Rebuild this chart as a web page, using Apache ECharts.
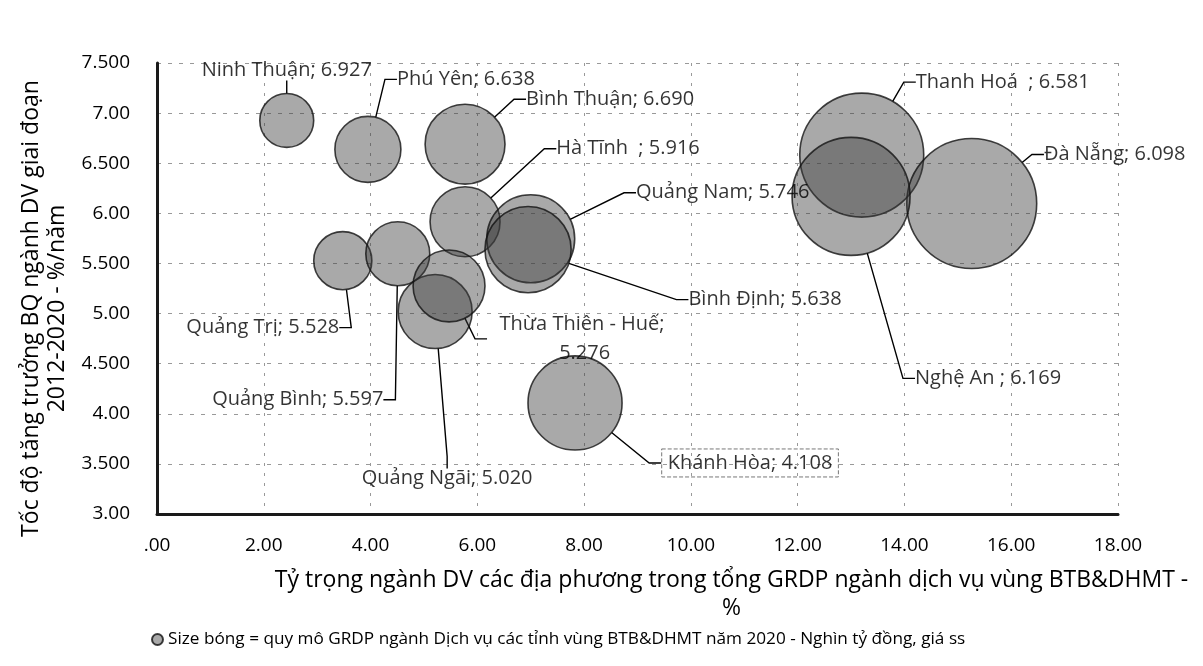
<!DOCTYPE html>
<html>
<head>
<meta charset="utf-8">
<script src="https://cdn.jsdelivr.net/npm/echarts@6/dist/echarts.min.js"></script>
<style>
html,body{margin:0;padding:0;background:#fff;}
#chart{width:1203px;height:666px;}
</style>
</head>
<body>
<div id="chart"></div>
<script>
// ---- data ----
const provinces = ['Ninh Thuận', 'Phú Yên', 'Bình Thuận', 'Hà Tĩnh  ', 'Quảng Nam', 'Bình Định', 'Thanh Hoá  ', 'Đà Nẵng', 'Nghệ An ', 'Khánh Hòa', 'Quảng Trị', 'Quảng Bình', 'Quảng Ngãi', 'Thừa Thiên - Huế'];
const shareX = [2.43, 3.95, 5.77, 5.77, 7.00, 6.95, 13.20, 15.26, 13.00, 7.83, 3.48, 4.51, 5.21, 5.47];
const growthY = [6.927, 6.638, 6.690, 5.916, 5.746, 5.638, 6.581, 6.098, 6.169, 4.108, 5.528, 5.597, 5.020, 5.276];
const grdpSize = [8.6, 12.9, 18.9, 14.5, 22.9, 22.0, 45.5, 50.0, 41.2, 26.2, 10.0, 12.1, 16.2, 15.3];
const xTickLabels = ['.00', '2.00', '4.00', '6.00', '8.00', '10.00', '12.00', '14.00', '16.00', '18.00'];
const yTickLabels = ['3.00', '3.500', '4.00', '4.500', '5.00', '5.500', '6.00', '6.500', '7.00', '7.500'];
const seriesName = 'Size bóng = quy mô GRDP ngành Dịch vụ các tỉnh vùng BTB&DHMT năm 2020 - Nghìn tỷ đồng, giá ss';
const xTitle = 'Tỷ trọng ngành DV các địa phương trong tổng GRDP ngành dịch vụ vùng BTB&DHMT -\n%';
const yTitle = 'Tốc độ tăng trưởng BQ ngành DV giai đoạn\n2012-2020 - %/năm';

// ---- label layout (pixel offsets of each label from its bubble centre) ----
const labelOffsets = [
  [0, -50], [98, -70], [145, -45], [163, -73], [192, -46], [237, 50], [141, -73],
  [143, -49], [137, 182], [175, 60], [-80, 67], [-100, 146], [12, 167], [133, 53]
];

const FONT = '"Open Sans", "DejaVu Sans", sans-serif';

const data = provinces.map((p, i) => {
  const item = { name: p, value: [shareX[i], growthY[i], grdpSize[i]] };
  if (p === 'Thừa Thiên - Huế') {
    item.label = { width: 190, overflow: 'break', align: 'center', lineHeight: 29 };
  }
  if (p === 'Khánh Hòa') {
    item.label = { borderColor: '#555', borderType: 'dashed', borderWidth: 1, padding: [5, 6, 3, 6] };
  }
  return item;
});

const chart = echarts.init(document.getElementById('chart'), null, { renderer: 'canvas' });
chart.setOption({
  animation: false,
  backgroundColor: '#fff',
  textStyle: { fontFamily: FONT },
  grid: { left: 157, right: 85, top: 63, bottom: 152, containLabel: false },
  legend: {
    left: 146, top: 626,
    icon: 'circle', itemWidth: 11, itemHeight: 11, itemGap: 6,
    textStyle: { fontFamily: FONT, fontSize: 17.2, color: '#000' },
    data: [seriesName]
  },
  xAxis: {
    type: 'value', min: 0, max: 18, interval: 2,
    axisLine: { show: true, lineStyle: { color: '#1a1a1a', width: 3 } },
    axisTick: { show: false },
    splitLine: { show: true, lineStyle: { color: '#999', type: [3, 7], width: 1 } },
    axisLabel: {
      margin: 22, fontSize: 19, color: '#000', fontFamily: FONT,
      formatter: (v) => xTickLabels[Math.round(v / 2)]
    },
    name: xTitle, nameLocation: 'middle', nameGap: 52,
    nameTextStyle: { fontFamily: FONT, fontSize: 23, color: '#000', lineHeight: 28, padding: [0, 0, 0, 188] }
  },
  yAxis: {
    type: 'value', min: 3, max: 7.5, interval: 0.5,
    axisLine: { show: true, lineStyle: { color: '#1a1a1a', width: 3 } },
    axisTick: { show: false },
    splitLine: { show: true, lineStyle: { color: '#999', type: [4, 7], width: 1 } },
    axisLabel: {
      margin: 27, fontSize: 19, color: '#000', fontFamily: FONT,
      formatter: (v) => yTickLabels[Math.round((v - 3) / 0.5)]
    },
    name: yTitle, nameLocation: 'middle', nameGap: 72, nameRotate: 90,
    nameTextStyle: { fontFamily: FONT, fontSize: 23, color: '#000', lineHeight: 26, padding: [0, 40, 0, 0] }
  },
  series: [{
    name: seriesName,
    type: 'scatter',
    data: data,
    symbol: 'circle',
    symbolSize: (val) => 2 * 9.19 * Math.sqrt(val[2]),
    itemStyle: {
      color: 'rgba(60,60,60,0.55)',
      borderColor: '#111',
      borderWidth: 1.6
    },
    emphasis: { disabled: true },
    label: {
      show: true,
      position: 'inside',
      fontFamily: FONT,
      fontSize: 20,
      color: '#000',
      formatter: (p) => p.name + '; ' + p.value[1].toFixed(3)
    },
    labelLine: {
      show: true,
      length2: 12,
      lineStyle: { color: '#000', width: 1.4 }
    },
    labelLayout: (params) => {
      const off = labelOffsets[params.dataIndex];
      return { dx: off[0], dy: off[1], hideOverlap: false, moveOverlap: false };
    }
  }]
});
</script>
</body>
</html>
